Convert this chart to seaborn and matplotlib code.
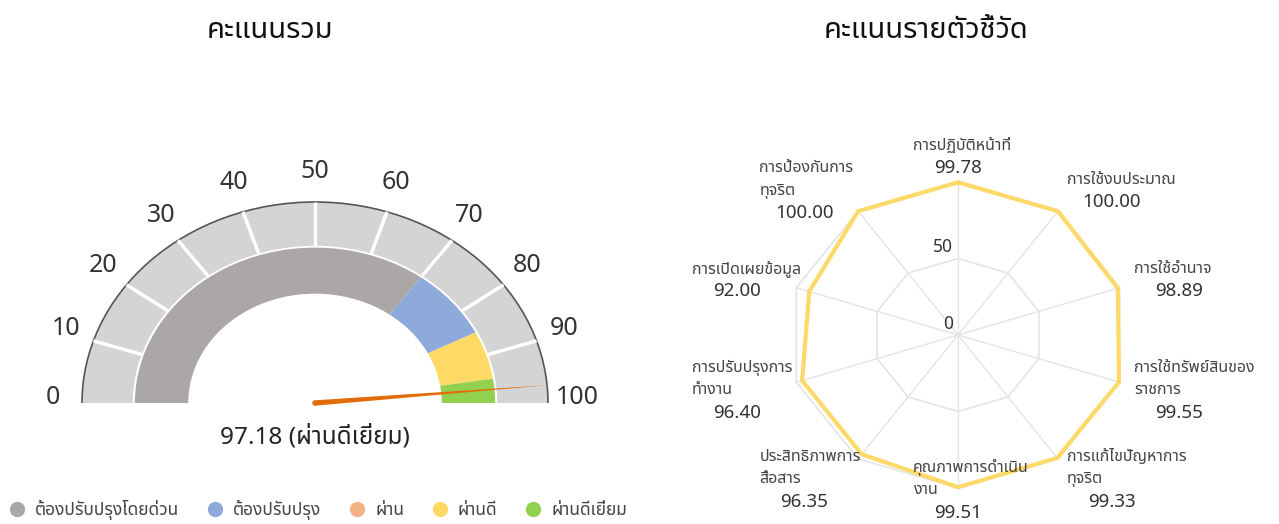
import numpy as np
import pandas as pd
import seaborn as sns
import matplotlib.pyplot as plt
from matplotlib import font_manager
from matplotlib.patches import Wedge, Arc, Ellipse
from matplotlib.lines import Line2D

# ---- data: gauge ----
gauge_score = 97.18
gauge_grade = 'ผ่านดีเยี่ยม'
gauge_ticks = [0, 10, 20, 30, 40, 50, 60, 70, 80, 90, 100]
band_edges = [0, 70, 85, 95, 100]
band_colors = ['#aba7a7', '#8eaadb', '#ffd966', '#92d050']
legend_labels = ['ต้องปรับปรุงโดยด่วน', 'ต้องปรับปรุง', 'ผ่าน', 'ผ่านดี', 'ผ่านดีเยี่ยม']
legend_colors = ['#aba7a7', '#8eaadb', '#f4b183', '#ffd966', '#92d050']

# ---- data: radar ----
indicators = ['การปฏิบัติหน้าที่', 'การใช้งบประมาณ', 'การใช้อำนาจ',
              'การใช้ทรัพย์สินของ\nราชการ', 'การแก้ไขปัญหาการ\nทุจริต',
              'คุณภาพการดำเนิน\nงาน', 'ประสิทธิภาพการ\nสื่อสาร',
              'การปรับปรุงการ\nทำงาน', 'การเปิดเผยข้อมูล', 'การป้องกันการ\nทุจริต']
indicator_scores = [99.78, 100.00, 98.89, 99.55, 99.33, 99.51, 96.35, 96.40, 92.00, 100.00]
radar_ticks = [0, 50]


def find_thai_fonts():
    from fontTools.ttLib import TTFont
    found = []
    for f in font_manager.fontManager.ttflist:
        if f.name in found:
            continue
        try:
            tt = TTFont(f.fname, fontNumber=0, lazy=True)
            cmap = tt.getBestCmap()
            if cmap and 0x0E01 in cmap:
                found.append(f.name)
        except Exception:
            pass
    pref = ['Noto Sans Thai', 'Noto Sans Thai UI', 'Noto Sans Thai Looped', 'Loma', 'Garuda']
    found.sort(key=lambda n: pref.index(n) if n in pref else len(pref))
    return found


sns.set_theme(style='white')
thai = find_thai_fonts()
plt.rcParams['font.family'] = thai + ['DejaVu Sans']

W, H = 1279, 524
fig = plt.figure(figsize=(W / 100, H / 100), dpi=100)
fig.patch.set_facecolor('white')

# ================= gauge =================
cx, cy = 315, 403          # centre in pixels (from top)
rx, ry = 233, 201          # pixel size of radius 1
axg = fig.add_axes([0, 0, 640 / W, 1])
axg.set_xlim(-cx / rx, (640 - cx) / rx)
axg.set_ylim(-(H - cy) / ry, cy / ry)
axg.axis('off')


def ang(v):
    return 180.0 * (1 - v / 100.0)


axg.add_patch(Wedge((0, 0), 1.0, 0, 180, width=0.218, fc='#d4d4d4', ec='none'))
axg.add_patch(Arc((0, 0), 2.0, 2.0, theta1=0, theta2=180, color='#555555', lw=1.2))
for t in gauge_ticks[1:-1]:
    a = np.radians(ang(t))
    axg.plot([0.782 * np.cos(a), np.cos(a)], [0.782 * np.sin(a), np.sin(a)],
             color='white', lw=2.5, solid_capstyle='butt')
for lo, hi, c in zip(band_edges[:-1], band_edges[1:], band_colors):
    axg.add_patch(Wedge((0, 0), 0.773, ang(hi), ang(lo), width=0.229, fc=c, ec='none'))

for t in gauge_ticks:
    a = np.radians(ang(t))
    axg.text(1.125 * np.cos(a), 1.125 * np.sin(a) + 0.025, str(t), ha='center', va='center',
             fontsize=18, color='#333333')

# needle
a = np.radians(ang(gauge_score))
ux, uy = rx * np.cos(a), ry * np.sin(a)
nrm = np.hypot(ux, uy)
nx, ny = -uy / nrm, ux / nrm
hw = 2.7
axg.fill([np.cos(a), hw * nx / rx, -hw * nx / rx], [np.sin(a), hw * ny / ry, -hw * ny / ry],
         color='#e36c0a', lw=0)
axg.add_patch(Ellipse((0, 0), 2 * hw / rx, 2 * hw / ry, color='#e36c0a', lw=0))

axg.text(0, -34 / ry, f'{gauge_score:.2f} ({gauge_grade})', ha='center', va='center',
         fontsize=17.5, color='#222222')

# ================= radar =================
rcx, rcy = 958, 335
sx, sy = 1.70, 1.53        # pixels per score unit
axr = fig.add_axes([640 / W, 0, (W - 640) / W, 1])
axr.set_xlim((640 - rcx) / sx, (W - rcx) / sx)
axr.set_ylim(-(H - rcy) / sy, rcy / sy)
axr.axis('off')

n = len(indicators)
theta = 2 * np.pi * np.arange(n) / n
grid_c = '#e4e4e4'
for th in theta:
    axr.plot([0, 100 * np.sin(th)], [0, 100 * np.cos(th)], color=grid_c, lw=1, zorder=1)
for lev in [50, 100]:
    axr.plot(lev * np.sin(np.append(theta, 0)), lev * np.cos(np.append(theta, 0)),
             color=grid_c, lw=1.2, zorder=1)
for lev in radar_ticks:
    axr.text(-5 / sx, lev + 2 / sy, str(lev), ha='right', va='bottom', fontsize=12.5, color='#333333')

vals = np.array(indicator_scores)
df = pd.DataFrame({'x': np.append(vals * np.sin(theta), vals[0] * np.sin(theta[0])),
                   'y': np.append(vals * np.cos(theta), vals[0] * np.cos(theta[0]))})
sns.lineplot(data=df, x='x', y='y', sort=False, estimator=None, color='#fdd96a', lw=3,
             ax=axr, zorder=3)
axr.set_xlabel('')
axr.set_ylabel('')

step = 22.5
bottom_px = -(H - rcy)     # lowest pixel row, relative to centre
for name, v, th in zip(indicators, indicator_scores, theta):
    s, c = np.sin(th), np.cos(th)
    qx = 100 * sx * s + 15 * s
    qy = 100 * sy * c + 15 * c
    yc = qy + 10 * c
    lines = name.split('\n')
    nl = len(lines) + 1
    ytop = yc + (nl - 1) / 2 * step
    lift = max(0, (bottom_px + 11) - (ytop - (nl - 1) * step))
    ytop += lift
    if s > 0.1:
        left = qx
    elif s < -0.1:
        left = qx - 90
    else:
        left = qx - 45
    for k, ln in enumerate(lines):
        axr.text(left / sx, (ytop - k * step) / sy, ln, ha='left', va='center',
                 fontsize=11.5, color='#444444', clip_on=False)
    axr.text((left + 45) / sx, (ytop - (nl - 1) * step) / sy, f'{v:.2f}', ha='center',
             va='center', fontsize=13.5, color='#333333', clip_on=False)

# ================= titles & legend =================
for tx, title in [(270, 'คะแนนรวม'), (926, 'คะแนนรายตัวชี้วัด')]:
    fig.text(tx / W, 1 - 30 / H, title, ha='center', va='center', fontsize=21,
             color='#111111', fontweight='normal')

handles = [Line2D([], [], marker='o', ls='none', markersize=10, markerfacecolor=c,
                  markeredgecolor=c) for c in legend_colors]
fig.legend(handles, legend_labels, loc='center left', bbox_to_anchor=(8 / W, 1 - 510 / H),
           ncol=5, frameon=False, fontsize=12.5, handlelength=1.0, handletextpad=0.55,
           columnspacing=1.55, labelcolor='#444444', borderaxespad=0, borderpad=0)

fig.savefig('out.png', dpi=100, facecolor='white')
